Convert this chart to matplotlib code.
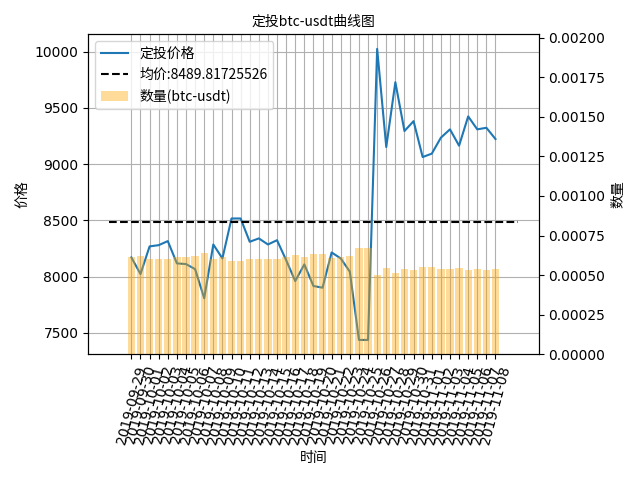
import matplotlib
matplotlib.use("Agg")
import matplotlib.pyplot as plt
import pandas as pd

# data
dates = [d.strftime("%Y-%m-%d") for d in pd.date_range("2019-09-29", "2019-11-08")]
prices = [8171, 8023, 8269, 8280, 8316, 8118, 8112, 8067, 7808, 8286,
          8162, 8517, 8517, 8310, 8340, 8286, 8324, 8147, 7961, 8109,
          7917, 7902, 8215, 8162, 8044, 7438, 7438, 10024, 9152, 9728,
          9294, 9382, 9063, 9093, 9235, 9309, 9164, 9424, 9309, 9323,
          9223]
amounts = [0.000612, 0.000623, 0.000605, 0.000604, 0.000601, 0.000616, 0.000616, 0.000620, 0.000640, 0.000603,
           0.000613, 0.000587, 0.000587, 0.000602, 0.000600, 0.000603, 0.000601, 0.000614, 0.000628, 0.000617,
           0.000632, 0.000633, 0.000609, 0.000613, 0.000622, 0.000672, 0.000672, 0.000499, 0.000546, 0.000514,
           0.000538, 0.000533, 0.000552, 0.000550, 0.000541, 0.000537, 0.000546, 0.000531, 0.000537, 0.000536,
           0.000542]
avg_price = 8489.81725526

cjk = ["Noto Sans CJK SC", "DejaVu Sans"]

fig, ax = plt.subplots(figsize=(6.4, 4.8), dpi=100)
x = list(range(len(dates)))

l1, = ax.plot(x, prices, color="tab:blue", label="定投价格")
l2 = ax.hlines(avg_price, -2.5, len(dates) + 1.5, colors="k", linestyles="--",
               linewidth=1.5, label=f"均价:{avg_price}")
ax.grid(True)
ax.set_xticks(x)
ax.set_xticklabels(dates, rotation=75)
ax.set_xlabel("时间", family=cjk)
ax.set_ylabel("价格", family=cjk)
ax.set_title("定投btc-usdt曲线图", family=cjk, fontsize=10)

ax2 = ax.twinx()
b1 = ax2.bar(x, amounts, color="orange", alpha=0.4, label="数量(btc-usdt)")
ax2.set_ylim(0, 0.00202)
ax2.set_ylabel("数量", family=cjk)

ax2.legend([l1, l2, b1], [l1.get_label(), l2.get_label(), b1.get_label()],
           loc="upper left", prop={"family": cjk})

fig.tight_layout()
fig.savefig("out.png")
